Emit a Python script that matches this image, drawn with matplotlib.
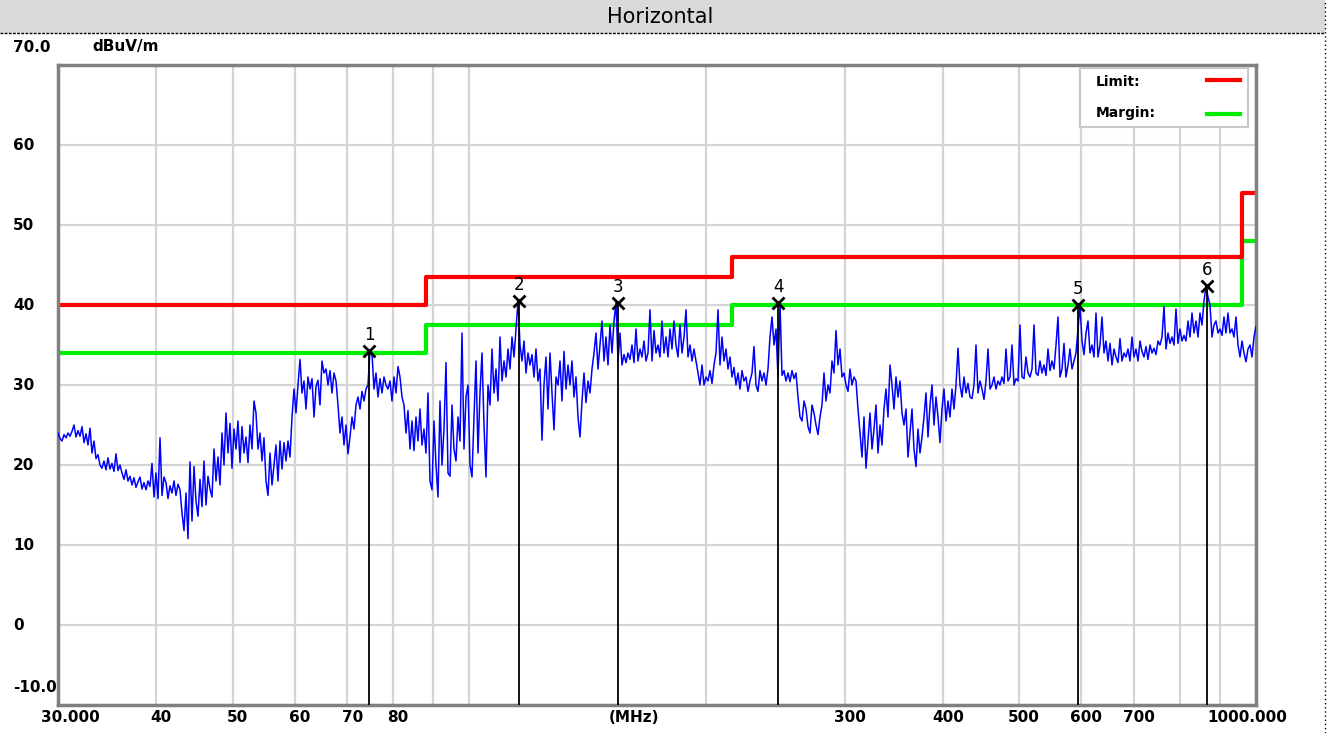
import numpy as np
import matplotlib
matplotlib.use("Agg")
import matplotlib.pyplot as plt
from matplotlib.patches import Rectangle
from matplotlib.lines import Line2D
import matplotlib.transforms as mtransforms

# limit / margin (FCC class B style steps), MHz edges
limit_edges = [30, 88, 216, 960, 1000]
limit_level = [40.0, 43.5, 46.0, 54.0, 54.0]
margin_level = [34.0, 37.5, 40.0, 48.0, 48.0]

trace_level = [
    # 30 - 45 MHz
    24.0, 23.3, 23.0, 23.8, 23.4, 24.0, 23.6, 24.2, 25.0, 23.5,
    24.3, 23.6, 24.8, 22.8, 23.9, 22.5, 24.6, 21.5, 23.0,
    20.8, 21.3, 20.0, 19.6, 20.5, 19.4, 20.9, 19.5, 20.2, 19.2,
    21.4, 19.3, 20.0,
    19.0, 18.2, 19.4, 18.0, 18.6, 17.5, 18.4, 17.2, 17.9, 18.5,
    17.0, 17.8, 16.9, 18.0, 17.3, 20.2,
    16.0, 19.0, 15.8, 23.4, 16.2, 18.5,
    17.8, 15.8, 17.4, 16.5, 18.0, 16.2, 17.6, 16.9,
    14.0, 11.8, 16.5, 10.8, 20.4,
    13.0, 19.8, 15.5, 13.6, 18.2, 14.8, 20.5, 15.0, 18.6, 17.0,
    16.0, 22.0, 18.0, 21.0, 17.5,
    # 45 - 75 MHz
    24.0, 20.0, 26.5, 21.5, 25.2, 19.6, 24.5, 22.0, 25.5, 20.3,
    24.8, 21.5, 23.5, 20.3, 25.0, 22.0, 28.0,
    26.5, 22.0, 24.0, 20.5, 23.4, 18.0, 16.2, 21.5, 17.5, 20.0,
    22.5, 18.0, 23.0, 19.5, 22.8, 20.5, 23.0, 21.0,
    26.0, 29.5, 26.5, 30.0, 33.2,
    29.0, 30.5, 27.0, 31.0, 29.5, 30.8, 26.0, 29.8, 30.6, 27.5, 33.0,
    31.5, 32.0, 30.0, 31.8, 29.0, 31.5, 30.5,
    27.5, 24.0, 26.0, 22.5, 25.0, 21.4, 23.5,
    26.0, 24.5, 27.5, 28.5, 27.0, 29.2, 28.0, 29.5,
    30.0, 34.3,
    # 75 - 155 MHz
    34.0, 29.5, 31.5, 28.5, 30.8, 29.0, 31.0, 30.0,
    29.5, 30.5, 28.0, 31.0, 29.0, 32.3, 31.0, 28.5,
    27.5, 24.0, 26.8, 22.0, 25.5, 21.8, 26.0, 23.0, 27.0, 22.5, 24.5, 21.5,
    29.0, 18.0, 16.9, 25.5, 20.0, 16.0,
    28.0, 20.0, 24.5, 32.8, 19.0, 18.6, 27.5, 22.0, 20.5, 26.0,
    23.0, 36.5, 22.0, 28.5, 30.0, 20.0, 18.5, 26.0, 33.0, 21.5,
    29.0, 34.0, 25.0, 18.5,
    30.0, 27.5, 34.5, 29.0, 32.0, 28.0, 36.0, 30.5, 33.0, 31.0,
    34.5, 32.0, 36.0, 33.5, 37.0,
    40.5,
    35.0, 33.0, 35.5, 31.5, 34.0, 32.5, 33.8, 31.0, 34.5, 30.5, 32.0,
    23.1, 30.0, 33.5, 27.0, 34.0, 29.0, 24.4, 31.0, 30.0, 33.0,
    28.0, 34.2, 29.5, 32.5, 30.0, 33.0, 28.5, 31.0, 26.0, 23.5, 28.0,
    31.5, 27.8, 30.5, 29.0, 32.0,
    34.0, 36.5, 32.0, 35.0, 38.0, 33.0, 36.0, 32.5, 37.5, 34.0, 38.0,
    40.3,
    # 155 - 300 MHz
    33.0, 36.5, 32.5, 33.8, 32.8, 34.0, 33.2, 35.0, 32.8, 37.0,
    33.0, 34.5, 33.5, 35.5, 33.0, 34.0, 39.4, 33.0, 36.8, 34.0,
    35.0, 33.5, 38.0, 34.0, 36.0, 33.5, 37.0, 34.5, 38.0, 35.0, 33.5,
    37.5, 34.0, 36.0, 39.4, 33.5, 35.0, 33.0, 34.5, 33.0,
    31.5, 30.0, 32.5, 30.0, 31.0, 30.5, 31.8, 30.2,
    32.5, 34.0, 39.4, 32.5, 36.0, 33.0, 34.5, 32.0, 33.5,
    31.0, 32.2, 30.0, 31.5, 29.5, 31.8, 30.5, 31.0, 29.2, 30.5,
    31.5, 34.8, 30.0, 29.2, 31.8, 30.5, 31.5, 30.0, 32.0,
    36.0, 38.5, 35.0, 37.0, 31.0, 40.2,
    31.2, 31.8, 30.5, 31.5, 30.4, 31.8, 30.8, 31.5,
    28.5, 26.0, 25.5, 28.0, 27.0, 24.8, 24.0, 27.5, 26.5, 25.0, 23.8,
    26.0, 27.5, 31.5, 28.0, 30.0, 29.0,
    33.0, 31.5, 36.8, 32.5, 34.5, 31.0,
    31.5, 30.0, 29.2, 32.0, 30.0, 31.0, 30.5,
    # 300 - 550 MHz
    27.0, 24.0, 21.0, 26.0, 19.6, 23.0, 26.5, 22.0, 24.5, 27.5,
    21.5, 25.0, 22.5,
    27.0, 29.5, 26.0, 32.5, 30.0, 27.0, 31.0, 28.5, 30.5, 26.5,
    25.0, 27.0, 21.0, 24.0, 27.0, 22.0, 19.8, 24.5, 21.5, 23.5,
    26.0, 29.0, 23.5, 27.5, 30.0, 25.0, 28.5, 26.0, 22.8, 27.0,
    29.5, 25.5, 28.0, 26.0, 29.5, 27.0, 30.0,
    34.6, 30.0, 28.5, 31.0, 29.0, 30.2, 28.5,
    28.3, 30.0, 35.0, 29.0, 30.5, 29.5, 28.2, 30.5, 34.5, 29.5,
    30.0, 31.0, 29.5, 30.5, 30.0, 31.0, 30.2, 34.5,
    30.5, 31.0, 35.0, 30.0, 30.8, 30.5, 37.5, 31.0, 30.8, 33.5, 31.5,
    31.0, 32.0, 37.5, 31.5, 31.2, 33.0, 31.5, 32.5, 31.2, 34.5,
    31.8, 33.0, 32.0, 35.0,
    # 550 - 1000 MHz
    38.5, 31.0, 32.0, 35.2, 31.0, 32.5, 34.5, 32.0, 33.0, 34.0, 37.0,
    40.0,
    35.5, 33.8, 36.5, 38.0, 34.0, 35.0, 33.5, 39.0, 33.5, 35.0,
    38.5, 34.0, 35.5,
    33.0, 35.2, 32.5, 34.5, 33.5, 32.8, 35.8, 33.0, 34.0, 33.5,
    34.5, 33.0, 36.0, 33.5, 34.5, 33.0, 35.5, 34.2, 33.5, 34.8,
    33.2, 35.0, 34.0, 34.6, 33.8, 35.5,
    35.0, 36.0, 39.8, 34.5, 36.5, 35.2, 36.0, 35.0, 39.5, 35.2,
    37.0, 35.5, 36.2, 35.5, 38.0, 36.0, 39.0,
    36.5, 38.0, 36.0, 39.0, 37.5, 40.5,
    42.4, 41.0, 40.0,
    36.0, 37.5, 38.0, 36.5, 37.0, 36.2, 38.5, 36.5, 39.0, 36.5,
    37.0, 36.0, 38.5,
    35.0, 33.5, 35.5, 34.0, 32.9, 34.5, 35.0, 33.5, 36.0, 37.3,
]
# sweep points, log spaced over the scan range
trace_freq = np.geomspace(30, 1000, len(trace_level))

# peak markers
marker_no = ["1", "2", "3", "4", "5", "6"]
marker_freq = [74.6, 115.6, 154.5, 247.0, 594.0, 866.0]
marker_level = [34.3, 40.5, 40.3, 40.2, 40.0, 42.4]

grid_freq = [30, 40, 50, 60, 70, 80, 90, 100, 200, 300, 400, 500, 600,
             700, 800, 900, 1000]
xlabels = {30: "30.000", 40: "40", 50: "50", 60: "60", 70: "70", 80: "80",
           300: "300", 400: "400", 500: "500", 600: "600", 700: "700",
           1000: "1000.000"}
ylabels = {70: "70.0", 60: "60", 50: "50", 40: "40", 30: "30", 20: "20",
           10: "10", 0: "0", -10: "-10.0"}

W, H = 1329, 733
fig = plt.figure(figsize=(W / 100, H / 100), dpi=100)
fig.patch.set_facecolor("white")

# title bar
fig.patches.append(Rectangle((0, 1 - 33 / H), 1325 / W, 33 / H,
                             transform=fig.transFigure, facecolor="#d9d9d9",
                             edgecolor="none", zorder=0))
fig.lines.append(Line2D([0, 1325 / W], [1 - 33 / H, 1 - 33 / H],
                        transform=fig.transFigure, color="black", lw=1,
                        linestyle=(0, (2, 1))))
fig.lines.append(Line2D([1325 / W, 1325 / W], [0, 1],
                        transform=fig.transFigure, color="black", lw=1,
                        linestyle=(0, (1, 2))))
fig.text(660 / W, 1 - 17 / H, "Horizontal", ha="center", va="center",
         fontsize=15, family="DejaVu Sans")

ax = fig.add_axes([58 / W, 1 - 705 / H, 1198 / W, 640 / H])
ax.set_xscale("log")
ax.set_xlim(30, 1000)
ax.set_ylim(-10, 70)

ax.set_xticks(grid_freq)
ax.set_xticks([], minor=True)
ax.set_yticks(list(range(-10, 71, 10)))
ax.tick_params(length=0, labelbottom=False, labelleft=False)
ax.grid(True, color="#d4d4d4", lw=1.6)
for s in ax.spines.values():
    s.set_color("#808080")
    s.set_linewidth(2.5)

ax.step(limit_edges, margin_level, where="post", color="#00ee00", lw=3,
        zorder=2)
ax.step(limit_edges, limit_level, where="post", color="#ff0000", lw=3,
        zorder=2)
ax.plot(trace_freq, trace_level, color="#0000ff", lw=1.1, zorder=3)

for no, f, lv in zip(marker_no, marker_freq, marker_level):
    ax.plot([f, f], [-10, lv], color="black", lw=1.3, zorder=4)
    ax.plot(f, lv, marker="x", ms=9, mew=2, color="black", zorder=5)
    ax.annotate(no, xy=(f, lv), xytext=(0, 16), textcoords="offset pixels",
                ha="center", va="center", fontsize=12, zorder=5)

# x labels
for f, lab in xlabels.items():
    dx = 5
    if f == 30:
        dx = 12
    elif f == 1000:
        dx = -9
    ax.annotate(lab, xy=(f, 0), xycoords=("data", "axes fraction"),
                xytext=(dx, -13), textcoords="offset pixels",
                ha="center", va="center", fontsize=11, fontweight="bold",
                annotation_clip=False)
ax.annotate("(MHz)", xy=(162, 0), xycoords=("data", "axes fraction"),
            xytext=(0, -13), textcoords="offset pixels", ha="center",
            va="center", fontsize=11, fontweight="bold",
            annotation_clip=False)

# y labels
ytrans = mtransforms.blended_transform_factory(fig.transFigure, ax.transData)
for v, lab in ylabels.items():
    dy = 0
    if v == 70 or v == -10:
        dy = 18
    ax.annotate(lab, xy=(13 / W, v), xycoords=ytrans, xytext=(0, dy),
                textcoords="offset pixels", ha="left", va="center",
                fontsize=11, fontweight="bold", annotation_clip=False)
fig.text(92 / W, 1 - 47 / H, "dBuV/m", ha="left", va="center",
         fontsize=11, fontweight="bold")

# legend box
ax.add_patch(Rectangle((0.853, 0.903), 0.1403, 0.0923,
                       transform=ax.transAxes, facecolor="white",
                       edgecolor="#c8c8c8", lw=1.5, zorder=6))
ax.text(0.8664, 0.9734, "Limit:", transform=ax.transAxes, ha="left",
        va="center", fontsize=10, fontweight="bold", zorder=7)
ax.text(0.8664, 0.925, "Margin:", transform=ax.transAxes, ha="left",
        va="center", fontsize=10, fontweight="bold", zorder=7)
ax.plot([0.959, 0.9866], [0.9766, 0.9766], transform=ax.transAxes,
        color="#ff0000", lw=3, zorder=7)
ax.plot([0.959, 0.9866], [0.9234, 0.9234], transform=ax.transAxes,
        color="#00ee00", lw=3, zorder=7)

fig.savefig("out.png", dpi=100)
